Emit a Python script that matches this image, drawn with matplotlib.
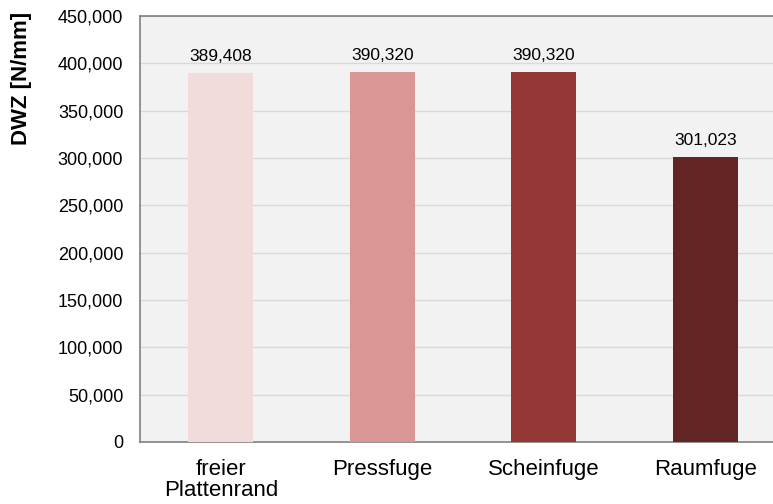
import matplotlib.pyplot as plt
from matplotlib.ticker import FuncFormatter

plt.rcParams['font.family'] = ['Liberation Sans', 'DejaVu Sans']

categories = ['freier\nPlattenrand', 'Pressfuge', 'Scheinfuge', 'Raumfuge']
dwz_values = [389408, 390320, 390320, 301023]
bar_colors = ['#F2DCDB', '#DA9694', '#953735', '#632523']
y_ticks = list(range(0, 450001, 50000))

W, H = 773, 504
fig = plt.figure(figsize=(W / 100, H / 100), dpi=100)
# plot area runs past the right edge of the figure
ax = fig.add_axes([140 / W, 1 - 442 / H, 646 / W, 426 / H])
ax.set_facecolor('#F2F2F2')

x = range(len(categories))
ax.bar(x, dwz_values, width=0.4, color=bar_colors, zorder=3)
for xi, v in zip(x, dwz_values):
    ax.text(xi, v + 10000, f'{v:,}', ha='center', va='bottom',
            fontsize=12.5, color='#000000', zorder=4)

ax.set_xlim(-0.5, len(categories) - 0.5)
ax.set_ylim(0, 450000)
ax.set_yticks(y_ticks)
ax.yaxis.set_major_formatter(FuncFormatter(lambda v, _: f'{int(v):,}'))
ax.set_xticks(list(x))
ax.set_xticklabels(categories, fontsize=16, linespacing=1.05)
ax.tick_params(axis='y', length=0, pad=12, labelsize=13)
ax.tick_params(axis='x', length=0, pad=12)

ax.grid(axis='y', color='#D9D9D9', linewidth=1, zorder=0)
for side in ['left', 'bottom', 'top', 'right']:
    ax.spines[side].set_color('#808080')
    ax.spines[side].set_linewidth(1.2)

fig.text(22 / W, 1 - 78 / H, 'DWZ [N/mm]', rotation=90, ha='center',
         va='center', fontsize=16, fontweight='bold')

fig.savefig('out.png', dpi=100, facecolor='white')
